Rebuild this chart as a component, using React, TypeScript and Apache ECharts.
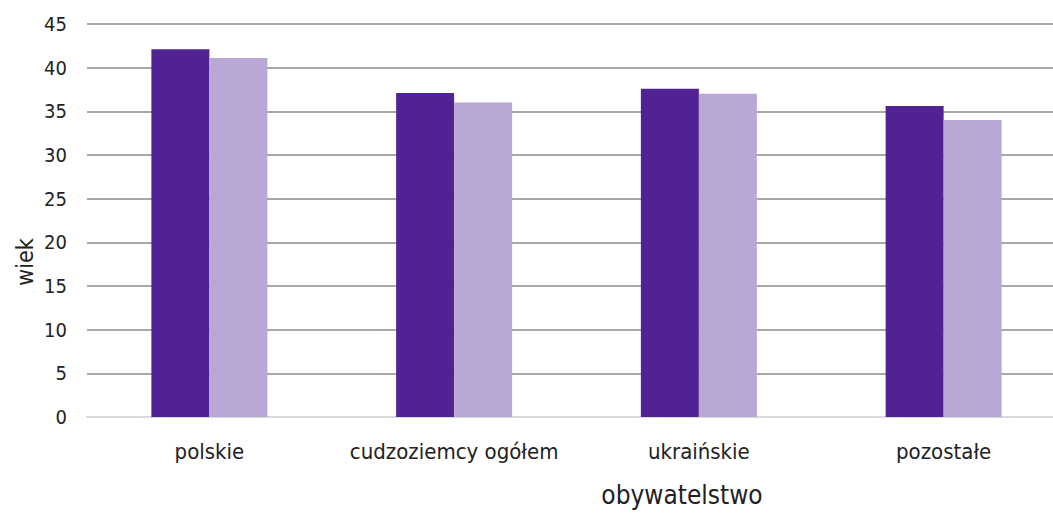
import React, { useEffect, useRef } from "react";
import * as echarts from "echarts";

const categories = ["polskie", "cudzoziemcy ogółem", "ukraińskie", "pozostałe"];
const seriesA = [42.1, 37.1, 37.6, 35.6];
const seriesB = [41.1, 36.0, 37.0, 34.0];
const yTicks = { min: 0, max: 45, interval: 5 };

const FONT = "'Liberation Sans Narrow', 'DejaVu Sans Condensed', 'Open Sans', sans-serif";

export default function App() {
  const ref = useRef<HTMLDivElement>(null);
  useEffect(() => {
    document.body.style.margin = "0";
    document.body.style.overflow = "hidden";
    document.documentElement.style.overflow = "hidden";
    const chart = echarts.init(ref.current!, null, { renderer: "svg" });
    chart.setOption({
      animation: false,
      grid: { left: 87, right: 9, top: 24, bottom: 96 },
      xAxis: {
        type: "category",
        data: categories,
        axisLine: { lineStyle: { color: "#d9d9d9", width: 2 } },
        axisTick: { show: false },
        axisLabel: {
          color: "#222",
          fontSize: 22,
          fontFamily: FONT,
          margin: 23,
          interval: 0,
          hideOverlap: false,
        },
      },
      yAxis: {
        type: "value",
        min: yTicks.min,
        max: yTicks.max,
        interval: yTicks.interval,
        axisLine: { show: false },
        axisTick: { show: false },
        axisLabel: { color: "#222", fontSize: 20, fontFamily: FONT, margin: 20 },
        splitLine: { lineStyle: { color: "#8a8a8a", width: 1.5 } },
      },
      series: [
        {
          type: "bar",
          data: seriesA,
          barWidth: 58,
          barGap: "0%",
          itemStyle: { color: "#512293" },
        },
        {
          type: "bar",
          data: seriesB,
          barWidth: 58,
          barGap: "0%",
          itemStyle: { color: "#b9a7d5" },
        },
      ],
      graphic: [
        {
          type: "text",
          x: 682,
          y: 495,
          style: {
            text: "obywatelstwo",
            fill: "#222",
            fontSize: 26,
            fontFamily: FONT,
            align: "center",
            verticalAlign: "middle",
          },
        },
        {
          type: "text",
          x: 25,
          y: 262,
          rotation: Math.PI / 2,
          style: {
            text: "wiek",
            fill: "#222",
            fontSize: 23,
            fontFamily: FONT,
            align: "center",
            verticalAlign: "middle",
          },
        },
      ],
    });
    return () => chart.dispose();
  }, []);
  return (
    <div style={{ width: 1053, height: 513, overflow: "hidden", position: "relative" }}>
      <div ref={ref} style={{ width: 1075, height: 513 }} />
    </div>
  );
}
